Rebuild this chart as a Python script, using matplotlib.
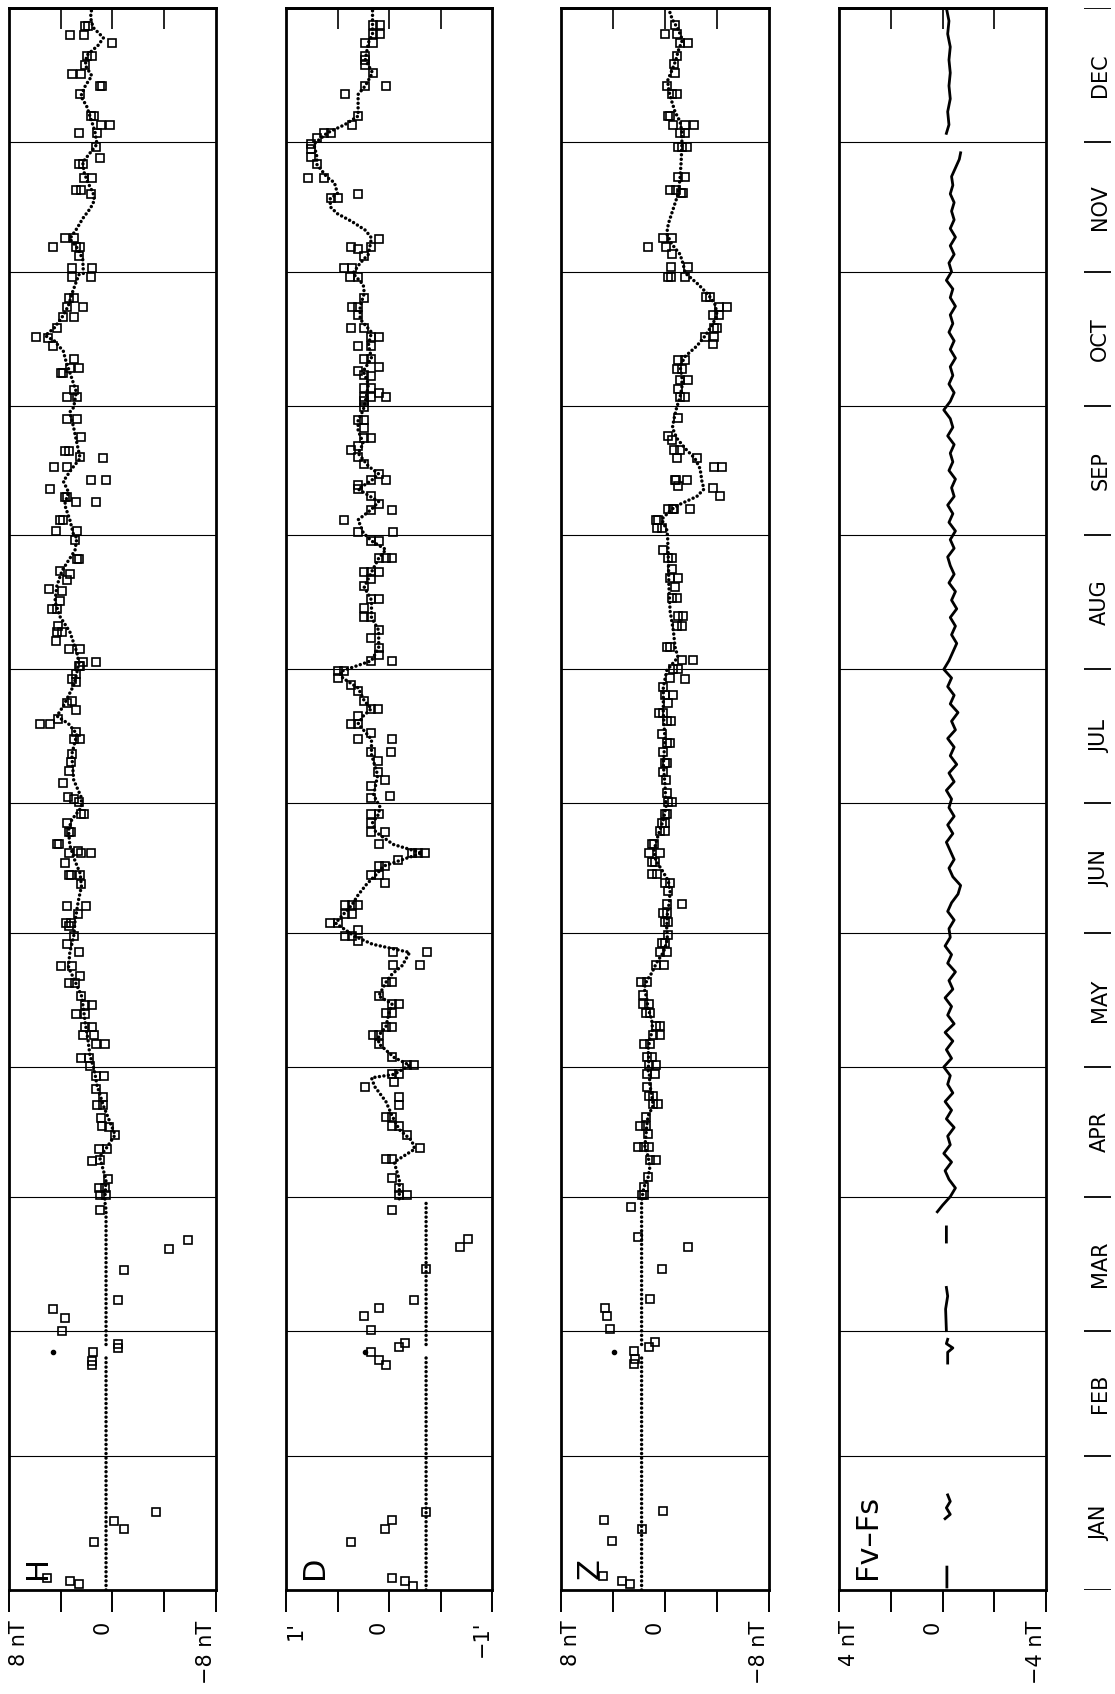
import numpy as np
import matplotlib
matplotlib.use('Agg')
import matplotlib.pyplot as plt
from matplotlib.transforms import blended_transform_factory

plt.rcParams['font.family'] = ['DejaVu Sans']
nan = float('nan')

months = ['JAN', 'FEB', 'MAR', 'APR', 'MAY', 'JUN', 'JUL', 'AUG', 'SEP', 'OCT', 'NOV', 'DEC']
month_days = [31, 29, 31, 30, 31, 30, 31, 31, 30, 31, 30, 31]

# ---------------- H (nT) ----------------
H_curve = [(0, 0.5), (54.5, 0.5), (nan, nan), (56.8, 0.5), (88, 0.5),
           (90, 0.6), (94.9, 0.5), (100.2, 1.0), (102.3, 0.46), (105.3, -0.2), (112, 0.7), (116.8, 1.2), (120.2, 1.4),
           (123.8, 1.75), (127.4, 1.9), (131, 2.1), (134.6, 2.25), (137.5, 2.4), (141.5, 3.0), (144, 3.4), (147.5, 3.3), (151.2, 3.0),
           (154.6, 2.9), (159.3, 2.65), (162.8, 2.4), (165.8, 2.5), (168.7, 2.9), (172.3, 3.3), (175.8, 3.4), (178.2, 3.15), (181.1, 2.4),
           (183.3, 2.4), (187.4, 3.0), (193.3, 3.15), (198, 2.75), (200.4, 3.4), (202.2, 4.3), (204.5, 3.8), (206.9, 3.4), (209.3, 3.0), (212.3, 2.75),
           (214.5, 2.6), (216.9, 2.75), (221.7, 3.3), (225.2, 4.06), (228.7, 4.45), (232.3, 4.3), (235.8, 3.9), (238.2, 3.4), (240.5, 2.9), (243.5, 2.75),
           (244, 3.0), (247.6, 3.3), (251.1, 3.7), (254, 3.4), (256.5, 3.8), (259.4, 3.15), (261.8, 2.5), (265.3, 2.75), (268.9, 3.0), (272.5, 3.3),
           (273.6, 3.0), (277.2, 2.8), (280.8, 3.2), (284.3, 3.6), (286.6, 3.8), (289, 4.5), (290.2, 5.2), (292, 4.5), (294.9, 3.8), (297.2, 3.4), (300.2, 3.1), (304.3, 2.6),
           (304.6, 2.25), (307.8, 2.3), (310.2, 2.65), (312.6, 3.3), (315, 2.75), (317.3, 2.3), (319.7, 1.7), (321.5, 1.4), (323.2, 1.5), (325.6, 1.9), (328, 2.2), (330.3, 2.3), (332.6, 1.7), (334.5, 1.2),
           (337.3, 1.35), (339.7, 1.6), (343.3, 2.0), (345.6, 2.45), (348, 2.1), (350.3, 1.6), (352.7, 2.1), (355, 2.0), (357.4, 1.1), (359.1, 0.7), (361.5, 1.5), (363.8, 1.7), (366, 1.6)]
H_squares = [(2.8, 5.1), (2.0, 3.3), (1.5, 2.6), (11, 1.4), (16, -0.1), (14, -0.9), (18, -3.4),
             (53, 1.6), (52, 1.6), (55, 1.5), (57, -0.4), (56, -0.4), (60, 3.9), (63, 3.7), (65, 4.6), (67, -0.4), (74, -0.9), (79, -4.4), (81, -5.8), (88, 1.0),
             (91.3, 1.0), (91.3, 0.5), (93.1, 1.05), (93.1, 0.6), (95.1, 0.34), (99.5, 1.0), (99.2, 1.55), (102, 1.06), (102, 0.4), (105.2, -0.2), (107.3, 0.85), (107.1, 0.3),
             (109.2, 0.9), (112.3, 1.16), (112.3, 0.72), (114, 0.72), (116, 1.3), (119, 1.3), (119, 0.65), (121.3, 1.75), (123, 2.4), (123, 1.8),
             (126.4, 1.3), (126.4, 0.6), (128.3, 1.4), (128.3, 2.27), (130.2, 1.55), (130.2, 2.1), (133.3, 2.1), (133.3, 2.84), (135.3, 1.6), (135.3, 2.1), (137.4, 2.4),
             (140.4, 3.4), (140.4, 2.86), (142.1, 2.5), (144.4, 4.0), (144.4, 3.1), (147.5, 2.6), (149.4, 3.5), (151.2, 3.0),
             (153.6, 3.35), (154.3, 3.6), (154.3, 3.2), (156.3, 2.7), (158.3, 3.55), (158.3, 2.06), (163.4, 2.45), (165.4, 2.5), (165.4, 3.4), (165.4, 3.2), (168.3, 3.7),
             (170.4, 3.4), (170.4, 1.7), (170.4, 2.4), (171, 2.7), (172.5, 4.3), (172.5, 4.1), (175.4, 3.4), (175.4, 3.2), (177.4, 3.55), (179.6, 2.4), (179.6, 2.2), (182.3, 2.6),
             (183.5, 3.45), (182.9, 3.0), (186.8, 3.8), (189.5, 3.4), (191.5, 3.2), (193.5, 3.15), (196.8, 3.0), (196.8, 2.5), (198.6, 2.8), (200.4, 5.6), (200.4, 4.8), (201.5, 4.2),
             (203.6, 2.85), (205.3, 3.5), (205.6, 3.1), (210, 2.8), (210.8, 3.15),
             (213.8, 2.6), (213.8, 2.5), (212, 2.8), (214.7, 1.27), (214.7, 2.25), (217.6, 3.4), (217.6, 2.5), (219.6, 4.4), (221.7, 4.3), (221.7, 3.9), (223.1, 4.2),
             (226.9, 4.7), (226.9, 4.3), (228.8, 4.06), (231.1, 3.9), (231.5, 4.9), (233.7, 3.5), (235, 3.3), (235.8, 4.06), (238.5, 2.77), (238.5, 2.56), (242.9, 2.9),
             (245, 4.4), (247.6, 4.06), (247.6, 3.8), (245, 2.77), (251.7, 2.84), (251.7, 1.27), (252.9, 3.5), (252.9, 3.67), (254.7, 4.8), (256.7, 1.7), (256.7, 0.5),
             (259.8, 4.5), (259.8, 3.5), (262.2, 2.5), (261.8, 0.75), (263.6, 3.67), (263.6, 3.4), (266.8, 2.4), (271, 3.5), (271, 2.77),
             (275.9, 3.5), (275.9, 2.77), (277.6, 3.0), (282.8, 3.3), (282.8, 2.56), (281.5, 3.8), (281.5, 4.0), (284.8, 3.0), (287.8, 4.6), (289.6, 5.0), (289.8, 5.9),
             (291.9, 4.3), (294.6, 3.8), (294.6, 3.0), (296.8, 3.5), (296.8, 2.25), (299, 3.0), (299, 3.4), (303.7, 3.15), (305.8, 1.6), (303.7, 1.65), (305.8, 3.1),
             (308.7, 2.6), (310.8, 2.5), (310.8, 2.8), (312.8, 3.7), (312.8, 2.95), (310.8, 4.6), (323.8, 2.4), (323.8, 2.8), (326.7, 2.2), (326.7, 1.6), (330, 2.6), (330, 2.25), (322.9, 1.65),
             (333.8, 1.27), (331.4, 1.0), (337, 2.6), (337, 1.2), (338.9, 0.9), (338.9, 0.23), (341, 1.68), (341, 1.4), (346, 2.5), (348, 1.0), (348, 0.8),
             (350.8, 3.15), (350.8, 2.4), (352.7, 2.1), (354.8, 2.0), (354.8, 1.6), (358, 0.0), (359.8, 2.2), (359.8, 3.3), (361.9, 2.1), (361.9, 1.9)]
H_dots = [(55, 4.6)]

# ---------------- D (arc minutes) ----------------
D_curve = [(0, -0.36), (54.5, -0.36), (nan, nan), (56.8, -0.36), (90, -0.36), (nan, nan),
           (90.5, -0.1), (94.9, -0.1), (99, -0.05), (102, -0.25), (104, -0.22), (106.5, -0.1), (109.7, -0.03), (113, 0.03), (116.5, 0.14), (118.5, 0.17),
           (119.3, -0.05), (121.4, -0.2), (123.2, -0.05), (126.4, 0.1), (128.3, 0.1), (130.3, 0.03), (133.5, 0.0), (135.6, -0.03), (137.4, 0.1), (140.6, 0.03),
           (142.5, -0.03), (144.5, -0.13), (147.5, -0.2), (149.4, 0.16), (151.2, 0.33),
           (154.3, 0.52), (158.5, 0.36), (160.8, 0.3), (163.2, 0.22), (165.4, 0.13), (167.5, 0.05), (169.3, -0.17), (170.5, -0.32), (172.5, -0.04),
           (175.4, 0.13), (177.5, 0.16), (179.5, 0.1), (181.3, 0.09),
           (183.9, 0.15), (188.5, 0.11), (193.3, 0.17), (196.8, 0.17), (200.4, 0.3), (202.2, 0.25), (203.9, 0.17), (205.7, 0.24), (208.7, 0.3), (211, 0.45), (212.5, 0.47),
           (215, 0.17), (218, 0.1), (222, 0.1), (225, 0.17), (229, 0.17), (232, 0.24), (235.5, 0.17), (238.7, 0.1), (240.7, 0.03), (242.7, 0.17),
           (244.6, 0.25), (247.6, 0.3), (250, 0.17), (251.8, 0.1), (254.7, 0.3), (256.7, 0.17), (258.2, 0.1), (260, 0.2), (263, 0.3), (265.3, 0.25), (268.3, 0.3), (270.6, 0.3), (273, 0.25),
           (276, 0.22), (279, 0.2), (282, 0.25), (285, 0.17), (288, 0.2), (291, 0.17), (294, 0.28), (297, 0.28), (300, 0.24), (302, 0.25), (304.6, 0.35),
           (307, 0.28), (309, 0.2), (312.8, 0.17), (314.6, 0.23), (316.6, 0.36), (318.4, 0.5), (320, 0.57), (321.9, 0.57), (323.1, 0.5), (325.6, 0.53),
           (326.8, 0.6), (329.8, 0.7), (331.6, 0.7), (334.5, 0.73),
           (337.1, 0.6), (339, 0.43), (341, 0.3), (344, 0.3), (346, 0.3), (348, 0.23), (351, 0.16), (354, 0.23), (358, 0.2), (360, 0.16), (362, 0.16), (366, 0.16)]
D_squares = [(18, -0.36), (16.1, -0.03), (14, 0.04), (11.2, 0.37), (2.8, -0.03), (2, -0.16), (1, -0.23),
             (74.2, -0.36), (67.2, -0.24), (65.2, 0.1), (63.3, 0.24), (60.1, 0.17), (79.3, -0.69), (81.1, -0.77), (88, -0.03),
             (55.1, 0.17), (53.2, 0.1), (52.1, 0.03), (56.3, -0.1), (57.1, -0.16),
             (91.4, -0.1), (91.4, -0.17), (93.1, -0.1), (95.3, -0.03), (99.7, 0.03), (99.7, -0.03), (102.3, -0.3), (105.3, -0.17), (107.3, -0.03), (107.3, -0.1),
             (109.4, 0.03), (109.4, -0.03), (112.3, -0.1), (114, -0.1), (116.4, 0.23), (117.5, -0.05),
             (119.3, -0.03), (119.3, -0.1), (121.4, -0.17), (121.4, -0.24), (123.2, -0.03), (126.4, 0.1), (128.3, 0.16), (128.3, 0.1), (130.3, 0.03), (130.3, -0.03),
             (133.5, 0.03), (133.5, -0.03), (135.6, -0.03), (135.6, -0.1), (137.4, 0.1), (140.6, 0.03), (140.6, -0.03), (144.5, -0.04), (144.5, -0.3),
             (147.5, -0.04), (147.5, -0.37), (150.2, 0.3), (151.2, 0.43), (151.2, 0.36),
             (154.3, 0.57), (154.3, 0.5), (156.5, 0.43), (156.5, 0.36), (152.6, 0.3), (158.5, 0.43), (158.5, 0.36), (158.5, 0.3), (165.4, 0.17), (165.4, 0.1), (163.6, 0.04),
             (167.5, 0.1), (167.5, 0.04), (168.9, -0.09), (170.5, -0.22), (170.5, -0.28), (170.5, -0.35), (172.5, 0.1), (175.4, 0.17), (175.4, 0.04), (177.5, 0.17), (179.5, 0.17), (179.5, 0.1),
             (183.2, 0.17), (183.6, -0.01), (186, 0.17), (187.3, 0.04), (189.2, 0.11), (191.9, 0.11), (193.9, 0.17), (193.9, -0.02), (196.8, 0.3), (196.8, -0.03), (198.3, 0.17),
             (200.4, 0.37), (200.4, 0.3), (202.2, 0.3), (203.9, 0.17), (203.9, 0.11), (205.7, 0.24), (208.1, 0.3), (209.3, 0.37), (211, 0.5), (212.5, 0.44), (212.5, 0.5),
             (215, 0.17), (215, -0.03), (216.2, 0.1), (218, 0.1), (220.3, 0.17), (222, 0.1), (225.2, 0.24), (225.2, 0.17), (227.3, 0.24), (229.3, 0.17), (229.3, 0.1),
             (232.2, 0.24), (234, 0.17), (235.5, 0.1), (235.5, 0.17), (235.5, 0.24), (238.7, 0.1), (238.7, 0.03), (238.7, -0.03), (242.7, 0.17), (242.7, 0.1),
             (244.8, -0.04), (244.8, 0.3), (247.6, 0.44), (249.9, 0.17), (249.9, -0.03), (251.3, 0.1), (253.1, 0.17), (254.7, 0.3), (255.7, 0.3), (256.7, 0.17), (256.7, 0.03),
             (258.1, 0.1), (260.5, 0.24), (262.2, 0.3), (263.8, 0.37), (264.7, 0.3), (266.6, 0.24), (266.6, 0.17), (268.8, 0.24), (270.6, 0.3), (270.6, 0.24),
             (273.6, 0.24), (275, 0.24), (276.1, 0.24), (276.1, 0.17), (276.1, 0.03), (277, 0.1), (278, 0.24), (278, 0.17), (280.8, 0.17), (282, 0.3), (281, 0.24),
             (284.8, 0.17), (284.8, 0.24), (283, 0.1), (287.8, 0.17), (290, 0.1), (290, 0.17), (287.8, 0.3), (292, 0.24), (292, 0.37), (294.9, 0.3), (296.8, 0.3),
             (298.8, 0.24), (296.8, 0.36), (303.7, 0.3), (303.7, 0.38), (305.8, 0.44), (305.8, 0.36),
             (308.7, 0.24), (310.8, 0.17), (310.2, 0.3), (312.6, 0.1), (310.8, 0.37), (322, 0.56), (322, 0.5), (323, 0.3), (326.7, 0.79), (326.7, 0.63), (330, 0.7), (331.6, 0.76), (333.4, 0.76),
             (334.5, 0.76), (336, 0.7), (337.1, 0.63), (337.1, 0.56), (339, 0.36), (341, 0.3), (346, 0.43), (348, 0.23), (348, 0.03), (351, 0.16), (352.7, 0.23),
             (354, 0.23), (355, 0.23), (358, 0.23), (358, 0.16), (360, 0.16), (360, 0.09), (362, 0.16), (362, 0.09)]
D_dots = [(55, 0.23)]

# ---------------- Z (nT) ----------------
Z_curve = [(0, 1.8), (54.5, 1.8), (nan, nan), (56.8, 1.8), (88, 1.8),
           (90.1, 1.8), (93.1, 1.63), (95.5, 1.3), (97.9, 1.16), (100.3, 1.3), (102.6, 1.55), (105, 1.47), (107.4, 1.4), (109.7, 1.3), (112.1, 0.9),
           (114.5, 1.03), (116.8, 1.16), (119.2, 1.2), (120.2, 1.3),
           (122.6, 1.24), (125, 1.3), (127.4, 1.16), (129.7, 0.95), (132.1, 1.03), (134.5, 1.3), (136.8, 1.4), (139.2, 1.6), (141, 1.4), (142.7, 1.03),
           (145.1, 0.65), (147.5, 0.13), (149.8, -0.13), (151.2, -0.18),
           (153.3, -0.13), (156.3, -0.18), (159.3, -0.34), (161.6, -0.39), (164, -0.26), (166.3, 0.18), (168.7, 0.7), (171, 0.85), (173.4, 0.65), (175.8, 0.4), (178.1, 0.13), (181.3, -0.08),
           (183, -0.05), (186.2, 0.0), (191, 0.13), (196.8, 0.0), (202.8, 0.13), (208.8, 0.13), (212.7, -0.13),
           (215.8, -1.0), (218.2, -0.77), (221.8, -0.65), (226.5, -0.39), (232.4, -0.3), (238.3, -0.26), (243.8, -0.2),
           (245.3, -0.13), (247.7, 0.26), (250, -0.5), (251.2, -1.16), (253, -2.45), (254.7, -3.0), (256.5, -2.84), (259.4, -2.7), (261.8, -2.3),
           (264.1, -1.55), (266.5, -0.9), (268.9, -0.57), (271.3, -0.72), (273.6, -0.9),
           (276, -1.16), (278.3, -1.3), (280.7, -1.3), (283.1, -1.16), (285.4, -1.55), (287.8, -2.45), (290.2, -3.1), (292.5, -3.6), (294.9, -4.0),
           (297.3, -3.87), (299.6, -3.35), (302, -2.58), (304.7, -1.55),
           (306.7, -1.4), (309, -1.16), (311.4, -0.52), (313.8, -0.13), (316.1, -0.26), (319.7, -0.65), (323.2, -1.03), (326.8, -1.16), (330.3, -1.24), (334.6, -1.3),
           (337.3, -1.3), (339.7, -1.16), (342, -0.77), (344.4, -0.52), (346.8, -0.3), (349.2, -0.2), (351.5, -0.52), (353.9, -0.83), (356.2, -1.03),
           (358.6, -1.34), (361, -1.03), (363.3, -0.57), (366, -0.26)]
Z_squares = [(3.2, 4.8), (2.1, 3.3), (1.3, 2.66), (14, 1.8), (11.3, 4.1), (16.1, 4.7), (18.2, 0.18),
             (55.4, 2.4), (53.4, 2.3), (52.4, 2.4), (56.3, 1.24), (57.4, 0.77), (60.3, 4.26), (63.3, 4.5), (65.2, 4.6), (67.4, 1.16), (74.3, 0.23),
             (79.3, -1.75), (81.6, 2.06), (88.5, 2.58),
             (91.4, 1.6), (91.4, 1.8), (93.3, 1.6), (95.5, 1.3), (99.5, 1.16), (99.5, 0.7), (102.6, 1.24), (102.6, 1.6), (102.5, 2.06), (105.5, 1.3),
             (107.4, 1.94), (107.4, 1.5), (109.4, 1.47), (112.4, 0.95), (112.4, 0.52), (114.4, 0.95), (114.4, 1.2), (116.4, 1.4), (119.3, 0.77), (119.3, 1.4),
             (121.4, 1.24), (121.4, 0.72), (123.2, 1.4), (123.2, 1.0), (126.4, 1.6), (126.4, 1.16), (128.4, 0.9), (128.4, 0.39), (130.4, 0.72), (130.4, 0.39),
             (133.4, 1.47), (133.4, 1.16), (135.6, 1.24), (135.6, 1.68), (137.6, 1.68), (140.6, 1.86), (140.6, 1.4), (144.5, 0.7), (144.5, 0.05),
             (147.5, 0.39), (147.5, -0.13), (149.6, 0.26), (149.6, 0.0), (151.6, -0.26), (154.5, 0.0), (154.5, -0.26), (156.7, 0.13), (156.7, -0.13),
             (158.7, -0.18), (158.7, -1.3), (161.6, -0.26), (163.6, 0.0), (163.6, -0.39), (165.6, 0.98), (165.6, 0.65), (168.5, 1.03), (168.5, 0.77),
             (170.5, 1.2), (170.5, 0.39), (172.5, 1.03), (172.5, 0.85), (175.5, 0.39), (175.5, 0.0), (177.5, 0.26), (177.5, 0.0), (179.5, 0.0), (179.5, -0.18),
             (182.3, -0.26), (182.3, -0.5),
             (184.5, -0.13), (187.4, -0.05), (189.2, 0.13), (191.3, -0.13), (191.3, 0.0), (193.9, 0.13), (195.9, -0.13), (195.9, -0.39), (198, 0.26),
             (201, -0.13), (201, -0.46), (202.8, 0.44), (202.8, 0.13), (205.2, -0.26), (207, -0.65), (207, 0.0), (208.8, 0.13), (211.1, -0.39),
             (213.1, -0.65), (213.1, -1.03), (210.7, -1.55), (215.1, -1.3), (215.1, -2.14), (218.2, -0.13), (218.2, -0.39), (223, -0.9), (223, -1.3),
             (225.4, -1.0), (225.4, -1.4), (229.4, -0.52), (229.4, -0.9), (232, -0.77), (234.1, -1.03), (234.1, -0.39), (236.1, -0.57),
             (238.7, -0.26), (238.7, -0.5), (240.7, 0.13),
             (247.6, 0.52), (247.6, 0.72), (245.8, 0.65), (245.8, 0.26), (250, -0.26), (250, -0.65), (255.3, -1.03), (256.7, -0.77), (263.7, -0.72), (263.7, -1.16),
             (261.8, -0.9), (266, -0.57), (261.8, -2.45), (256.7, -0.83), (256.7, -1.68), (259.8, -3.8), (259.8, -4.4), (254.9, -3.66), (253, -4.2),
             (250, -0.72), (250, -1.94), (267, -0.26), (271.1, -1.03),
             (276, -1.16), (276, -1.55), (277.9, -1.03), (280, -1.16), (280, -1.75), (282.5, -0.9), (282.5, -1.3), (284.6, -1.03), (284.6, -1.55),
             (290, -3.1), (290, -3.74), (288.2, -3.7), (292, -3.74), (292, -4.0), (294.9, -3.66), (294.9, -4.13), (296.9, -4.13), (296.9, -4.77),
             (299.1, -3.15), (299.1, -3.48), (303.7, -0.26), (303.7, -0.46), (303.7, -1.5), (306.1, -0.46), (306.1, -1.8),
             (310.8, -0.08), (310.8, 1.34), (312.9, -0.52), (312.9, 0.13), (309, -0.52), (323.2, -1.24), (323.2, -1.42), (324, -0.39), (324, -0.83),
             (327, -1.03), (327, -1.55), (333.8, -0.98), (333.8, -1.68), (333.8, -1.3),
             (337, -1.16), (337, -1.55), (338.9, -0.65), (338.9, -2.24), (338.9, -1.55), (346, -0.9), (346, -0.52), (341, -0.26), (341, -0.39),
             (350.9, -0.77), (348, -0.18), (353, -0.72), (355, -0.9), (358, -1.16), (358, -1.8), (360, -0.9), (362, -0.77), (360, 0.0)]
Z_dots = [(55, 3.9)]

# ---------------- Fv - Fs (nT) ----------------
F_line = [(0.7, -0.17), (5.3, -0.17), (nan, nan),
          (16.5, -0.1), (17.5, -0.3), (19, -0.15), (20.5, -0.3), (22, -0.2), (nan, nan),
          (52.5, -0.2), (55, -0.2), (56, -0.4), (57, -0.15), (58, -0.2), (nan, nan),
          (60, -0.15), (65, -0.12), (68, -0.2), (70, -0.15), (nan, nan),
          (80.5, -0.15), (84, -0.15), (nan, nan),
          (87.5, 0.2), (89, 0.0), (91, -0.3), (93, -0.5), (95, -0.25), (97, -0.1), (99, -0.35), (101, -0.05), (103, -0.3), (105, -0.2),
          (107, -0.45), (109, -0.15), (111, -0.35), (113, -0.1), (115, -0.4), (117, -0.2), (119, -0.3), (121, -0.05), (123, -0.35), (125, -0.15),
          (127, -0.4), (129, -0.1), (131, -0.45), (133, -0.2), (135, -0.35), (137, -0.1), (139, -0.4), (141, -0.25), (143, -0.5), (145, -0.2),
          (147, -0.35), (149, -0.1), (151, -0.3), (153, -0.25), (155, -0.45), (157, -0.2), (159, -0.35), (161, -0.6), (163, -0.7), (165, -0.4),
          (167, -0.25), (169, -0.45), (171, -0.3), (173, -0.15), (175, -0.4), (177, -0.2), (179, -0.45), (181, -0.25), (183, -0.35), (185, -0.15),
          (187, -0.45), (189, -0.25), (191, -0.55), (193, -0.3), (195, -0.45), (197, -0.2), (199, -0.5), (201, -0.35), (203, -0.6), (205, -0.3),
          (207, -0.45), (209, -0.2), (211, -0.35), (213, -0.05), (215, -0.25), (217, -0.4), (219, -0.55), (221, -0.35), (223, -0.5), (225, -0.3),
          (227, -0.55), (229, -0.35), (231, -0.5), (233, -0.25), (235, -0.45), (237, -0.3), (239, -0.2), (241, -0.45), (243, -0.3), (245, -0.5),
          (247, -0.25), (249, -0.4), (251, -0.2), (253, -0.45), (255, -0.35), (257, -0.5), (259, -0.25), (261, -0.4), (263, -0.3), (265, -0.45),
          (267, -0.2), (269, -0.4), (271, -0.3), (273, -0.05), (275, -0.3), (277, -0.45), (279, -0.25), (281, -0.4), (283, -0.3), (285, -0.5),
          (287, -0.3), (289, -0.45), (291, -0.25), (293, -0.4), (295, -0.3), (297, -0.5), (299, -0.3), (301, -0.4), (303, -0.15), (305, -0.35),
          (307, -0.25), (309, -0.45), (311, -0.3), (313, -0.5), (315, -0.3), (317, -0.45), (319, -0.35), (321, -0.45), (323, -0.3), (325, -0.4),
          (327, -0.35), (329, -0.5), (331, -0.65), (332.5, -0.7), (nan, nan),
          (337, -0.15), (339, -0.25), (342, -0.2), (345, -0.3), (348, -0.25), (351, -0.3), (354, -0.25), (357, -0.3), (360, -0.2), (363, -0.25), (366, -0.15)]

# ---------------- layout ----------------
FW, FH = 1115, 1694
fig = plt.figure(figsize=(FW / 100, FH / 100), dpi=100)
bot_px, top_px = 1590, 8
ax_bottom = 1 - bot_px / FH
ax_height = (bot_px - top_px) / FH
n_days = sum(month_days)
bounds = np.concatenate([[0], np.cumsum(month_days)])

panels = [
    dict(label='H', l=9, r=216, lim=8, ticks=[8, 4, 0, -4, -8], tl=['8 nT', '', '0', '', '\u22128 nT'],
         curve=H_curve, sq=H_squares, dots=H_dots),
    dict(label='D', l=286, r=492, lim=1, ticks=[1, 0.5, 0, -0.5, -1], tl=["1'", '', '0', '', "\u22121'"],
         curve=D_curve, sq=D_squares, dots=D_dots),
    dict(label='Z', l=561, r=769, lim=8, ticks=[8, 4, 0, -4, -8], tl=['8 nT', '', '0', '', '\u22128 nT'],
         curve=Z_curve, sq=Z_squares, dots=Z_dots),
    dict(label='Fv\u2013Fs', l=839, r=1046, lim=4, ticks=[4, 2, 0, -2, -4], tl=['4 nT', '', '0', '', '\u22124 nT'],
         line=F_line),
]

for p in panels:
    ax = fig.add_axes([p['l'] / FW, ax_bottom, (p['r'] - p['l']) / FW, ax_height])
    ax.set_xlim(p['lim'], -p['lim'])
    ax.set_ylim(0, n_days)
    for s in ax.spines.values():
        s.set_linewidth(2.0)
    ax.set_yticks([])
    ax.set_xticks(p['ticks'])
    labs = ax.set_xticklabels(p['tl'], rotation=90, fontsize=15)
    labs[0].set_ha('left')
    labs[2].set_ha('right')
    labs[4].set_ha('right')
    ax.tick_params(axis='x', direction='out', length=16, width=1.4, pad=6)
    sec = ax.secondary_xaxis('top')
    sec.set_xticks(p['ticks'][1:-1])
    sec.tick_params(direction='in', length=15, width=1.2, labeltop=False)
    sec.spines['top'].set_linewidth(2.0)
    for b in bounds[1:-1]:
        ax.axhline(b, color='black', lw=0.8, zorder=1)

    if 'curve' in p:
        cd = [c[0] for c in p['curve']]
        cv = [c[1] for c in p['curve']]
        ax.plot(cv, cd, color='black', lw=2.5, ls=(0, (0.01, 1.3)), dash_capstyle='round', zorder=3)
        sd = [c[0] for c in p['sq']]
        sv = [c[1] for c in p['sq']]
        ax.plot(sv, sd, ls='none', marker='s', ms=6.0, mfc='none', mec='black', mew=1.2, zorder=4)
        dd = [c[0] for c in p['dots']]
        dv = [c[1] for c in p['dots']]
        ax.plot(dv, dd, ls='none', marker='o', ms=3.0, color='black', zorder=4)
    else:
        ld = [c[0] for c in p['line']]
        lv = [c[1] for c in p['line']]
        ax.plot(lv, ld, color='black', lw=2.0, zorder=3, solid_joinstyle='round')

    tr = blended_transform_factory(ax.transAxes, ax.transData)
    ax.text(0.07, 2.5, p['label'], transform=tr, rotation=90, ha='left', va='bottom', fontsize=22)

# month labels column
axm = fig.add_axes([1078 / FW, ax_bottom, 37 / FW, ax_height])
axm.set_xlim(0, 1)
axm.set_ylim(0, n_days)
axm.axis('off')
axm.hlines(bounds, 0.15, 0.9, color='black', lw=1.3)
for i, m in enumerate(months):
    axm.text(0.6, (bounds[i] + bounds[i + 1]) / 2, m, rotation=90, ha='center', va='center', fontsize=15)

fig.savefig('out.png', dpi=100)
